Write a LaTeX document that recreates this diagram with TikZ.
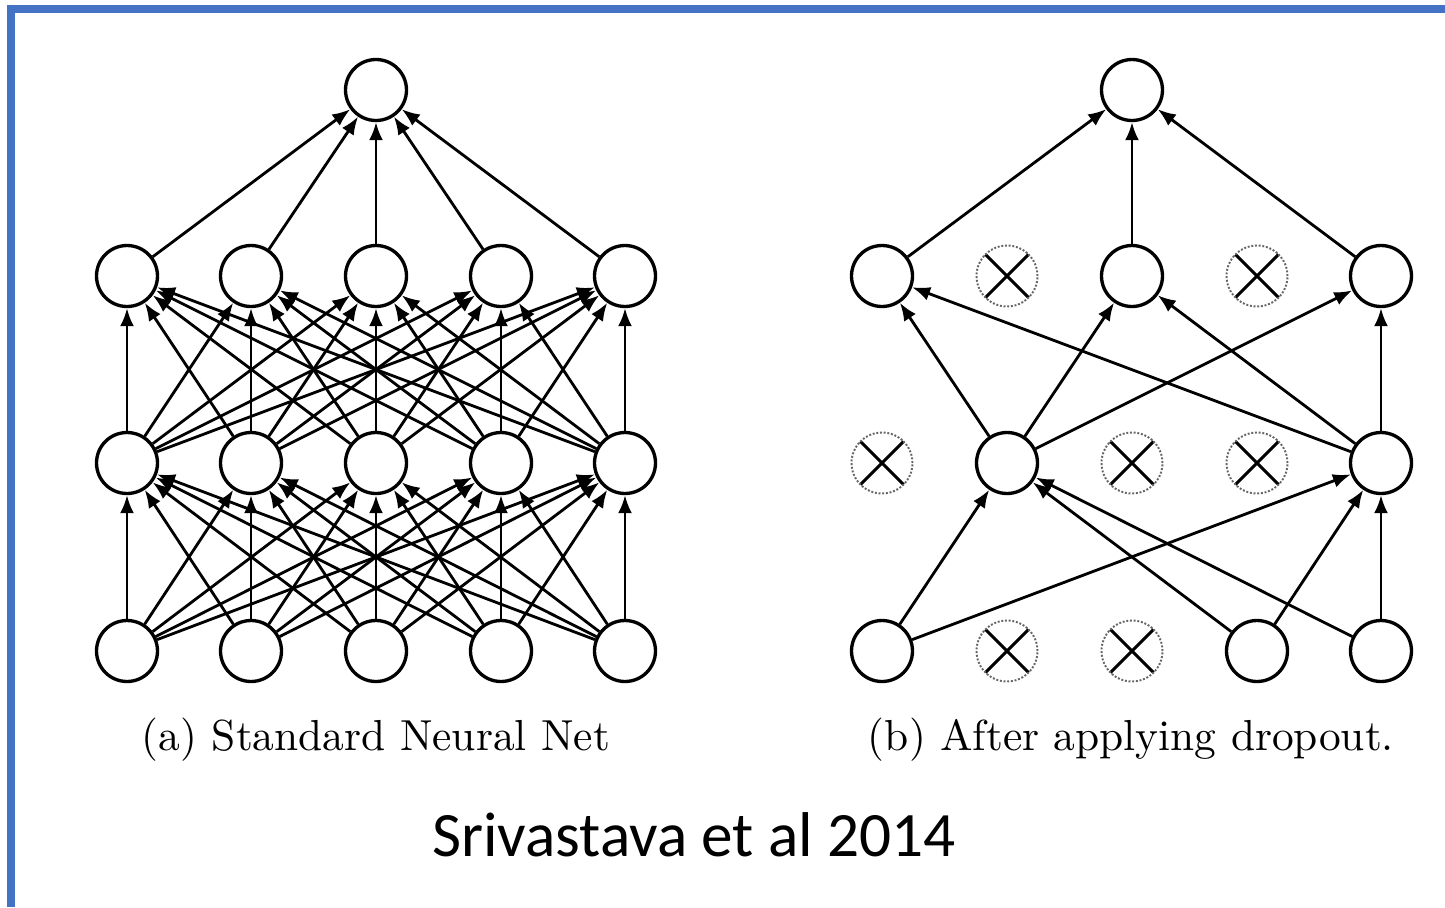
\documentclass[tikz,border=0pt]{standalone}
\usepackage{fontspec}
\newfontfamily\creditfont{Carlito}
\newfontfamily\subcapfont{lmroman10-regular}[Extension=.otf]
\usetikzlibrary{arrows.meta}
\definecolor{frameblue}{HTML}{4472C4}

\begin{document}
\begin{tikzpicture}[
  x=0.02cm, y=-0.02cm,
  unit/.style={
    circle,
    draw,
    line width=1.9pt,
    minimum size=1.22cm,
    inner sep=0pt,
  },
  dropped/.style={
    circle,
    draw=black!60,
    densely dotted,
    line width=1.1pt,
    minimum size=1.22cm,
    inner sep=0pt,
    path picture={
      \draw[solid, black, line width=1.7pt]
        (path picture bounding box.south west) -- (path picture bounding box.north east)
        (path picture bounding box.north west) -- (path picture bounding box.south east);
    },
  },
  arr/.style={
    -{Latex[length=0.36cm,width=0.28cm]},
    line width=1.6pt,
  },
  subcaption/.style={anchor=base, font=\subcapfont\fontsize{24.7}{28}\selectfont},
]
  % page and slide frame (top and left edges only)
  \fill[white] (0,0) rectangle (1445,907);
  \fill[frameblue] (7,5) rectangle (1445,12.7);
  \fill[frameblue] (7,5) rectangle (15,907);

  % (a) full network: columns and rows in picture pixels
  \foreach \n/\x in {1/127,2/251,3/376,4/501,5/625} {
    \node[unit] (ai\n) at (\x,651) {};
    \node[unit] (ah\n) at (\x,463) {};
    \node[unit] (ag\n) at (\x,276) {};
  }
  \node[unit] (ao) at (376,90) {};
  \foreach \i in {1,...,5} {
    \foreach \j in {1,...,5} {
      \draw[arr] (ai\i) -- (ah\j);
      \draw[arr] (ah\i) -- (ag\j);
    }
    \draw[arr] (ag\i) -- (ao);
  }

  % (b) thinned network: kept units and dropped units
  \node[unit]    (bi1) at (882,651) {};
  \node[dropped] (bi2) at (1007,651) {};
  \node[dropped] (bi3) at (1132,651) {};
  \node[unit]    (bi4) at (1257,651) {};
  \node[unit]    (bi5) at (1381,651) {};
  \node[dropped] (bh1) at (882,463) {};
  \node[unit]    (bh2) at (1007,463) {};
  \node[dropped] (bh3) at (1132,463) {};
  \node[dropped] (bh4) at (1257,463) {};
  \node[unit]    (bh5) at (1381,463) {};
  \node[unit]    (bg1) at (882,276) {};
  \node[dropped] (bg2) at (1007,276) {};
  \node[unit]    (bg3) at (1132,276) {};
  \node[dropped] (bg4) at (1257,276) {};
  \node[unit]    (bg5) at (1381,276) {};
  \node[unit]    (bo)  at (1132,90) {};
  \foreach \i in {1,4,5} {
    \foreach \j in {2,5} {\draw[arr] (bi\i) -- (bh\j);}
  }
  \foreach \i in {2,5} {
    \foreach \j in {1,3,5} {\draw[arr] (bh\i) -- (bg\j);}
  }
  \foreach \j in {1,3,5} {\draw[arr] (bg\j) -- (bo);}

  % captions
  \node[subcaption] (capa) at (376,750) {(a) Standard Neural Net};
  \node[subcaption] (capb) at (1131,750) {(b) After applying dropout.};
  \node[anchor=base, font=\creditfont\fontsize{36}{40}\selectfont] (credit) at (694,856) {Srivastava et al 2014};
\end{tikzpicture}
\end{document}
